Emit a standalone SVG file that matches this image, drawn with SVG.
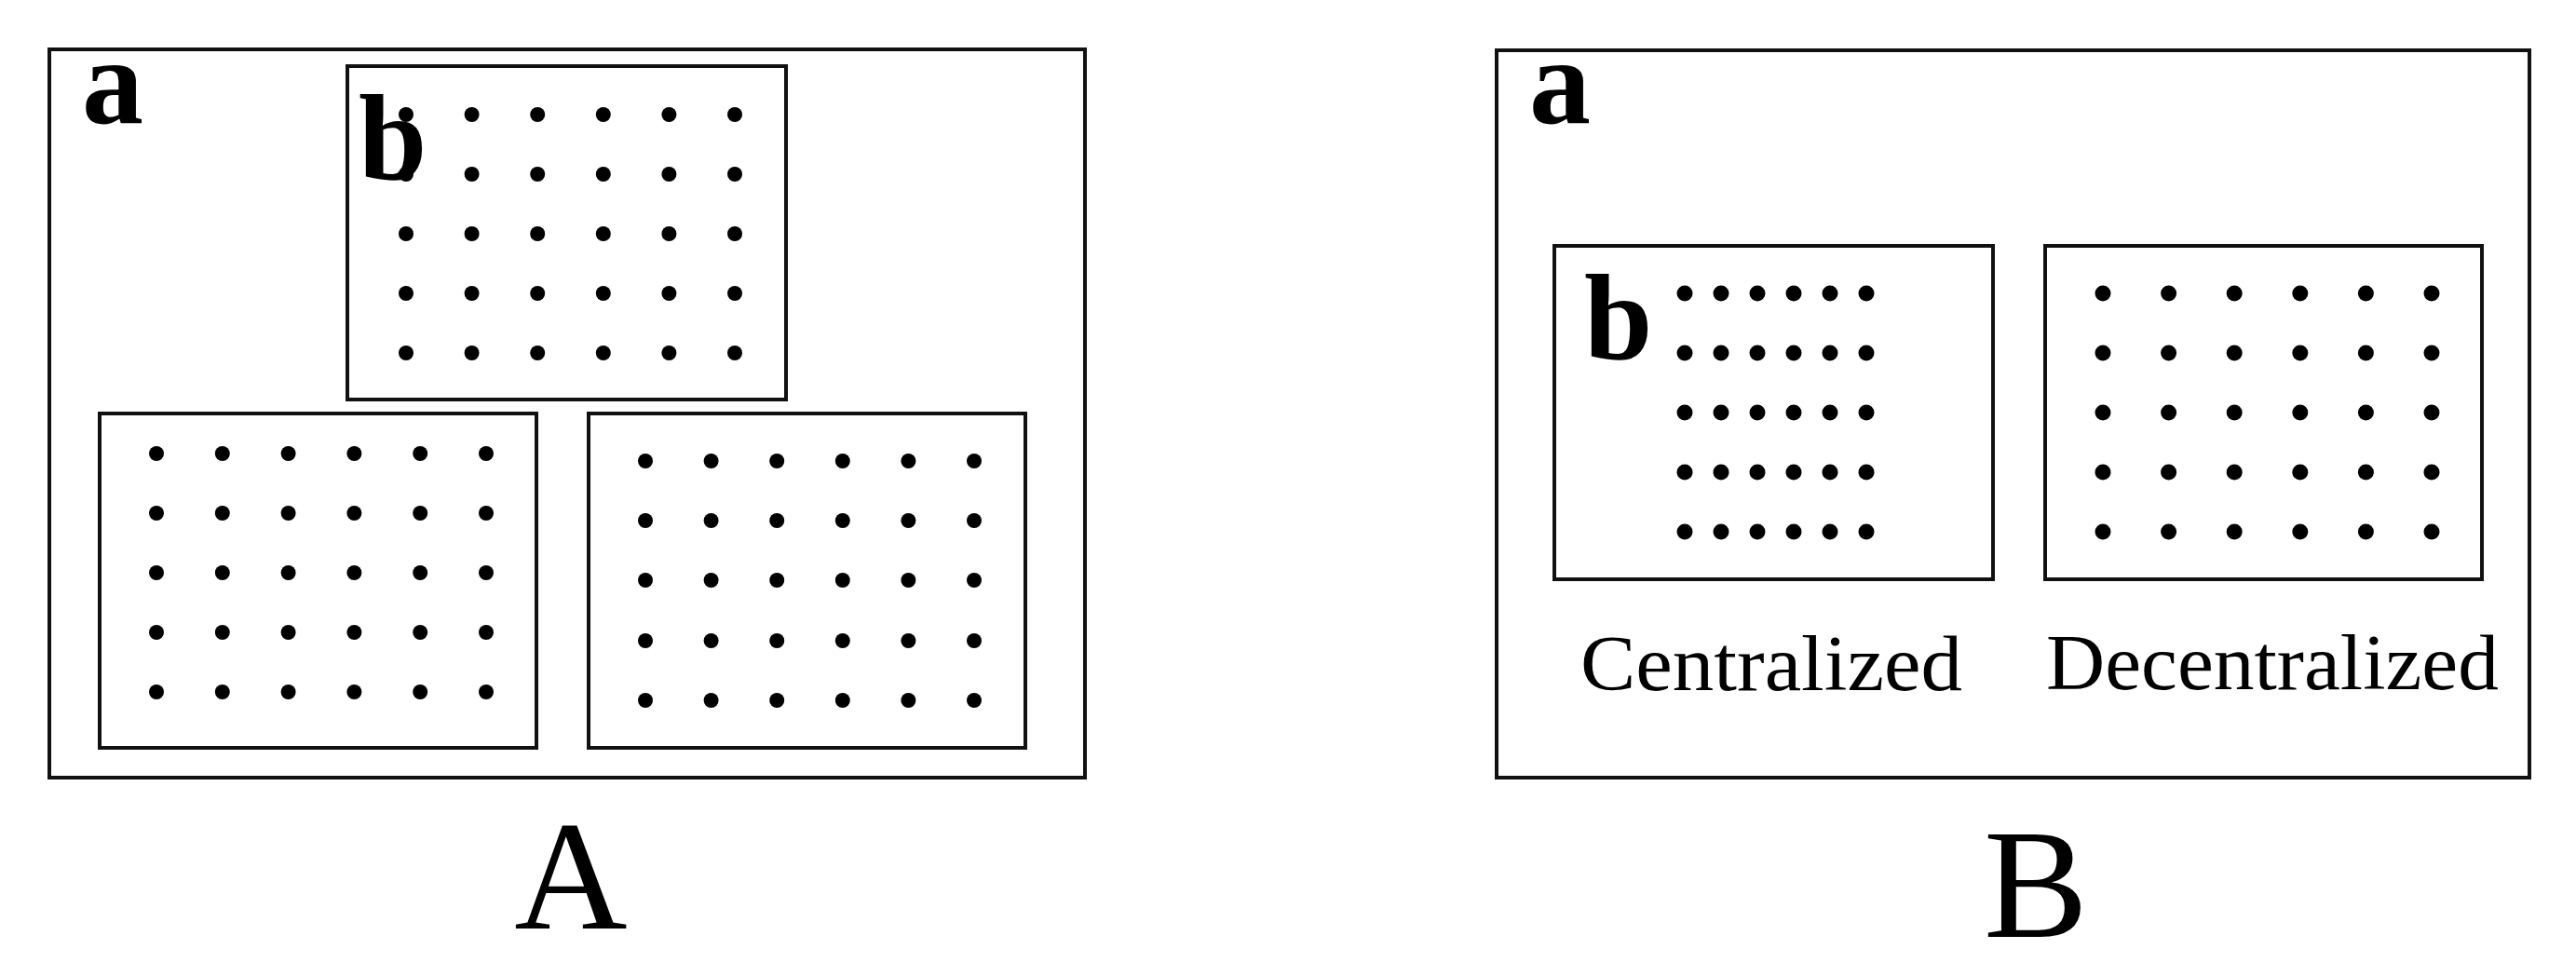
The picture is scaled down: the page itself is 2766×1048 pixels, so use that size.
<svg xmlns="http://www.w3.org/2000/svg" width="2766" height="1048" viewBox="0 0 2766 1048">
<style>
.box{fill:none;stroke:#111;stroke-width:4}
.dA{fill:#000}
.lbl{font-family:"Liberation Serif","Times New Roman",serif;font-weight:bold;font-size:132px;fill:#000}
.cap{font-family:"Liberation Serif","Times New Roman",serif;font-size:84px;fill:#000}
.big{font-family:"Liberation Serif","Times New Roman",serif;font-size:168px;fill:#000;text-anchor:middle}
</style>
<rect width="2766" height="1048" fill="#fff"/>
<g id="connectors"/>
<g id="panelA">
  <rect class="box" x="53" y="53" width="1112" height="782"/>
  <text class="lbl" x="88" y="132">a</text>
  <g id="A-top">
    <rect class="box" x="373" y="71" width="471" height="358"/>
    <text class="lbl" x="385" y="192">b</text>
    <g class="dA">
      <circle cx="436" cy="123" r="8"/><circle cx="506.6" cy="123" r="8"/><circle cx="577.2" cy="123" r="8"/><circle cx="647.8" cy="123" r="8"/><circle cx="718.4" cy="123" r="8"/><circle cx="789" cy="123" r="8"/>
      <circle cx="436" cy="187" r="8"/><circle cx="506.6" cy="187" r="8"/><circle cx="577.2" cy="187" r="8"/><circle cx="647.8" cy="187" r="8"/><circle cx="718.4" cy="187" r="8"/><circle cx="789" cy="187" r="8"/>
      <circle cx="436" cy="251" r="8"/><circle cx="506.6" cy="251" r="8"/><circle cx="577.2" cy="251" r="8"/><circle cx="647.8" cy="251" r="8"/><circle cx="718.4" cy="251" r="8"/><circle cx="789" cy="251" r="8"/>
      <circle cx="436" cy="315" r="8"/><circle cx="506.6" cy="315" r="8"/><circle cx="577.2" cy="315" r="8"/><circle cx="647.8" cy="315" r="8"/><circle cx="718.4" cy="315" r="8"/><circle cx="789" cy="315" r="8"/>
      <circle cx="436" cy="379" r="8"/><circle cx="506.6" cy="379" r="8"/><circle cx="577.2" cy="379" r="8"/><circle cx="647.8" cy="379" r="8"/><circle cx="718.4" cy="379" r="8"/><circle cx="789" cy="379" r="8"/>
    </g>
  </g>
  <g id="A-bottom-left">
    <rect class="box" x="107" y="444" width="469" height="359"/>
    <g class="dA">
      <circle cx="168" cy="487" r="8"/><circle cx="238.8" cy="487" r="8"/><circle cx="309.6" cy="487" r="8"/><circle cx="380.4" cy="487" r="8"/><circle cx="451.2" cy="487" r="8"/><circle cx="522" cy="487" r="8"/>
      <circle cx="168" cy="551" r="8"/><circle cx="238.8" cy="551" r="8"/><circle cx="309.6" cy="551" r="8"/><circle cx="380.4" cy="551" r="8"/><circle cx="451.2" cy="551" r="8"/><circle cx="522" cy="551" r="8"/>
      <circle cx="168" cy="615" r="8"/><circle cx="238.8" cy="615" r="8"/><circle cx="309.6" cy="615" r="8"/><circle cx="380.4" cy="615" r="8"/><circle cx="451.2" cy="615" r="8"/><circle cx="522" cy="615" r="8"/>
      <circle cx="168" cy="679" r="8"/><circle cx="238.8" cy="679" r="8"/><circle cx="309.6" cy="679" r="8"/><circle cx="380.4" cy="679" r="8"/><circle cx="451.2" cy="679" r="8"/><circle cx="522" cy="679" r="8"/>
      <circle cx="168" cy="743" r="8"/><circle cx="238.8" cy="743" r="8"/><circle cx="309.6" cy="743" r="8"/><circle cx="380.4" cy="743" r="8"/><circle cx="451.2" cy="743" r="8"/><circle cx="522" cy="743" r="8"/>
    </g>
  </g>
  <g id="A-bottom-right">
    <rect class="box" x="632" y="444" width="469" height="359"/>
    <g class="dA">
      <circle cx="693" cy="495" r="8"/><circle cx="763.6" cy="495" r="8"/><circle cx="834.2" cy="495" r="8"/><circle cx="904.8" cy="495" r="8"/><circle cx="975.4" cy="495" r="8"/><circle cx="1046" cy="495" r="8"/>
      <circle cx="693" cy="559" r="8"/><circle cx="763.6" cy="559" r="8"/><circle cx="834.2" cy="559" r="8"/><circle cx="904.8" cy="559" r="8"/><circle cx="975.4" cy="559" r="8"/><circle cx="1046" cy="559" r="8"/>
      <circle cx="693" cy="623" r="8"/><circle cx="763.6" cy="623" r="8"/><circle cx="834.2" cy="623" r="8"/><circle cx="904.8" cy="623" r="8"/><circle cx="975.4" cy="623" r="8"/><circle cx="1046" cy="623" r="8"/>
      <circle cx="693" cy="688" r="8"/><circle cx="763.6" cy="688" r="8"/><circle cx="834.2" cy="688" r="8"/><circle cx="904.8" cy="688" r="8"/><circle cx="975.4" cy="688" r="8"/><circle cx="1046" cy="688" r="8"/>
      <circle cx="693" cy="752" r="8"/><circle cx="763.6" cy="752" r="8"/><circle cx="834.2" cy="752" r="8"/><circle cx="904.8" cy="752" r="8"/><circle cx="975.4" cy="752" r="8"/><circle cx="1046" cy="752" r="8"/>
    </g>
  </g>
  <text class="big" x="613" y="997">A</text>
</g>
<g id="panelB">
  <rect class="box" x="1607" y="54" width="1109" height="781"/>
  <text class="lbl" x="1642" y="132">a</text>
  <g id="B-centralized">
    <rect class="box" x="1669" y="264" width="471" height="358"/>
    <text class="lbl" x="1701" y="385">b</text>
    <g class="dA">
      <circle cx="1809" cy="315" r="8.5"/><circle cx="1848" cy="315" r="8.5"/><circle cx="1887" cy="315" r="8.5"/><circle cx="1926" cy="315" r="8.5"/><circle cx="1965" cy="315" r="8.5"/><circle cx="2004" cy="315" r="8.5"/>
      <circle cx="1809" cy="379" r="8.5"/><circle cx="1848" cy="379" r="8.5"/><circle cx="1887" cy="379" r="8.5"/><circle cx="1926" cy="379" r="8.5"/><circle cx="1965" cy="379" r="8.5"/><circle cx="2004" cy="379" r="8.5"/>
      <circle cx="1809" cy="443" r="8.5"/><circle cx="1848" cy="443" r="8.5"/><circle cx="1887" cy="443" r="8.5"/><circle cx="1926" cy="443" r="8.5"/><circle cx="1965" cy="443" r="8.5"/><circle cx="2004" cy="443" r="8.5"/>
      <circle cx="1809" cy="507" r="8.5"/><circle cx="1848" cy="507" r="8.5"/><circle cx="1887" cy="507" r="8.5"/><circle cx="1926" cy="507" r="8.5"/><circle cx="1965" cy="507" r="8.5"/><circle cx="2004" cy="507" r="8.5"/>
      <circle cx="1809" cy="571" r="8.5"/><circle cx="1848" cy="571" r="8.5"/><circle cx="1887" cy="571" r="8.5"/><circle cx="1926" cy="571" r="8.5"/><circle cx="1965" cy="571" r="8.5"/><circle cx="2004" cy="571" r="8.5"/>
    </g>
    <text class="cap" x="1697" y="741" textLength="410" lengthAdjust="spacingAndGlyphs">Centralized</text>
  </g>
  <g id="B-decentralized">
    <rect class="box" x="2196" y="264" width="469" height="358"/>
    <g class="dA">
      <circle cx="2258" cy="315" r="8.5"/><circle cx="2328.6" cy="315" r="8.5"/><circle cx="2399.2" cy="315" r="8.5"/><circle cx="2469.8" cy="315" r="8.5"/><circle cx="2540.4" cy="315" r="8.5"/><circle cx="2611" cy="315" r="8.5"/>
      <circle cx="2258" cy="379" r="8.5"/><circle cx="2328.6" cy="379" r="8.5"/><circle cx="2399.2" cy="379" r="8.5"/><circle cx="2469.8" cy="379" r="8.5"/><circle cx="2540.4" cy="379" r="8.5"/><circle cx="2611" cy="379" r="8.5"/>
      <circle cx="2258" cy="443" r="8.5"/><circle cx="2328.6" cy="443" r="8.5"/><circle cx="2399.2" cy="443" r="8.5"/><circle cx="2469.8" cy="443" r="8.5"/><circle cx="2540.4" cy="443" r="8.5"/><circle cx="2611" cy="443" r="8.5"/>
      <circle cx="2258" cy="507" r="8.5"/><circle cx="2328.6" cy="507" r="8.5"/><circle cx="2399.2" cy="507" r="8.5"/><circle cx="2469.8" cy="507" r="8.5"/><circle cx="2540.4" cy="507" r="8.5"/><circle cx="2611" cy="507" r="8.5"/>
      <circle cx="2258" cy="571" r="8.5"/><circle cx="2328.6" cy="571" r="8.5"/><circle cx="2399.2" cy="571" r="8.5"/><circle cx="2469.8" cy="571" r="8.5"/><circle cx="2540.4" cy="571" r="8.5"/><circle cx="2611" cy="571" r="8.5"/>
    </g>
    <text class="cap" x="2197" y="740" textLength="486" lengthAdjust="spacingAndGlyphs">Decentralized</text>
  </g>
  <text class="big" x="2186" y="1006">B</text>
</g>
</svg>
